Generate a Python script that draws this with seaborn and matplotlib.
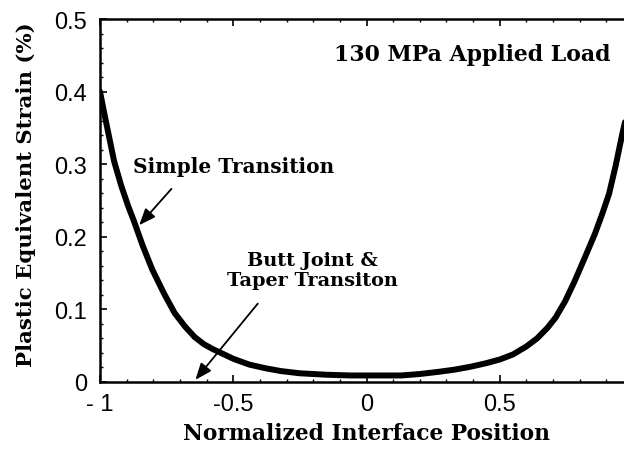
import matplotlib
matplotlib.use("Agg")
import matplotlib.pyplot as plt
from matplotlib.ticker import MultipleLocator
import pandas as pd
import seaborn as sns

# ---- data ----
position = [-1.0, -0.985, -0.97, -0.947, -0.92, -0.895, -0.872, -0.84, -0.804, -0.76,
            -0.72, -0.68, -0.645, -0.61, -0.575, -0.54, -0.5, -0.44, -0.38, -0.32,
            -0.25, -0.15, -0.06, 0.05, 0.13, 0.2, 0.27, 0.33, 0.39, 0.45,
            0.5, 0.55, 0.6, 0.64, 0.68, 0.71, 0.745, 0.78, 0.82, 0.857,
            0.885, 0.91, 0.935, 0.96, 0.98, 1.0]
strain = [0.400, 0.372, 0.345, 0.304, 0.270, 0.243, 0.221, 0.188, 0.155, 0.122,
          0.095, 0.076, 0.062, 0.052, 0.045, 0.039, 0.032, 0.024, 0.019, 0.015,
          0.012, 0.010, 0.009, 0.009, 0.009, 0.011, 0.014, 0.017, 0.021, 0.026,
          0.031, 0.038, 0.049, 0.060, 0.075, 0.089, 0.111, 0.138, 0.172, 0.204,
          0.232, 0.259, 0.298, 0.342, 0.374, 0.400]

x_ticks = [-1, -0.5, 0, 0.5, 1]
x_tick_labels = ["- 1", "-0.5", "0", "0.5", "1"]
y_ticks = [0, 0.1, 0.2, 0.3, 0.4, 0.5]
y_tick_labels = ["0", "0.1", "0.2", "0.3", "0.4", "0.5"]

x_label = "Normalized Interface Position"
y_label = "Plastic Equivalent Strain (%)"
title_note = "130 MPa Applied Load"
note_simple = "Simple Transition"
note_butt = "Butt Joint &\nTaper Transiton"

df = pd.DataFrame({"pos": position, "strain": strain})

sns.set_style("ticks")
plt.rcParams.update({"text.color": "black", "axes.labelcolor": "black",
                     "xtick.color": "black", "ytick.color": "black",
                     "axes.edgecolor": "black"})
serif = ["DejaVu Serif"]
sans = ["Liberation Sans", "DejaVu Sans"]

fig = plt.figure(figsize=(6.24, 4.52), dpi=100)
W, H = 624, 452
left_px, right_px, top_px, bottom_px = 100, 633, 20, 383
ax = fig.add_axes([left_px / W, (H - bottom_px) / H,
                   (right_px - left_px) / W, (bottom_px - top_px) / H])

sns.lineplot(data=df, x="pos", y="strain", ax=ax, color="black",
             linewidth=4.3, sort=False, legend=False)

ax.set_xlim(-1, 1)
ax.set_ylim(0, 0.5)

for s in ax.spines.values():
    s.set_linewidth(1.8)
    s.set_color("black")

ax.set_xticks(x_ticks)
ax.set_xticklabels(x_tick_labels, family=sans, fontsize=17, color="black")
ax.set_yticks(y_ticks)
ax.set_yticklabels(y_tick_labels, family=sans, fontsize=17, color="black")
ax.xaxis.set_minor_locator(MultipleLocator(0.1))
ax.yaxis.set_minor_locator(MultipleLocator(0.02))
ax.tick_params(which="major", direction="in", length=5, width=1.2,
               top=True, right=True, color="black")
ax.tick_params(axis="x", which="major", pad=8)
ax.tick_params(axis="y", which="major", pad=9.5)
ax.tick_params(which="minor", direction="in", length=2.5, width=1.0,
               top=True, right=True, color="black")

ax.set_xlabel(x_label, family=serif, fontweight="bold", fontsize=15.7,
              labelpad=5, color="black")
ax.set_ylabel(y_label, family=serif, fontweight="bold", fontsize=15.3,
              labelpad=13, color="black")
ax.yaxis.label.set_y(0.52)

ax.text(0.398, 0.452, title_note, family=serif, fontweight="bold",
        fontsize=15.8, ha="center", va="center", color="black")
ax.text(-0.498, 0.298, note_simple, family=serif, fontweight="bold",
        fontsize=14.5, ha="center", va="center", color="black")
ax.text(-0.203, 0.154, note_butt, family=serif, fontweight="bold",
        fontsize=13.9, ha="center", va="center", linespacing=1.1, color="black")

arrow_kw = dict(arrowstyle="-|>,head_length=1.0,head_width=0.4",
                color="black", lw=1.3, shrinkA=0, shrinkB=0)
ax.annotate("", xy=(-0.853, 0.216), xytext=(-0.732, 0.266), arrowprops=arrow_kw)
ax.annotate("", xy=(-0.642, 0.003), xytext=(-0.408, 0.108), arrowprops=arrow_kw)

fig.savefig("out.png", dpi=100)
